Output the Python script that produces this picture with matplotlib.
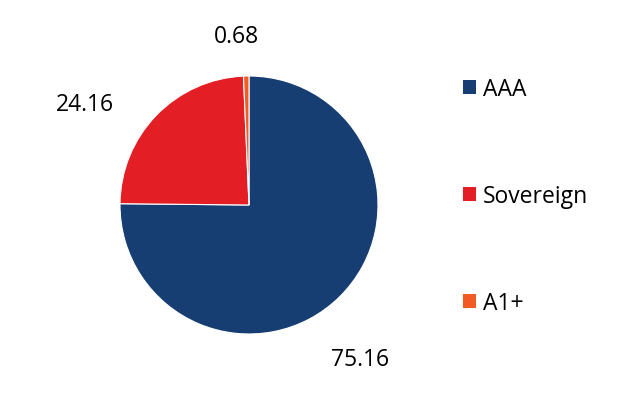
import matplotlib
matplotlib.use("Agg")
import matplotlib.pyplot as plt
from matplotlib.patches import Patch

plt.rcParams['font.family'] = ['Open Sans', 'DejaVu Sans']

categories = ['AAA', 'Sovereign', 'A1+']
values = [75.16, 24.16, 0.68]
colors = ['#173E72', '#E31E24', '#F15A22']

fig = plt.figure(figsize=(6.33, 4.02), dpi=100)
ax = fig.add_axes([120 / 633, 67 / 402, 258 / 633, 258 / 402])

wedges, texts = ax.pie(values, colors=colors, startangle=90, counterclock=False,
                       labels=['%.2f' % v for v in values], radius=1,
                       wedgeprops=dict(edgecolor='white', linewidth=0.8),
                       textprops=dict(fontsize=16.5, color='black'))
ax.set_aspect('equal')
ax.set_xlim(-1, 1)
ax.set_ylim(-1, 1)

# label placement similar to the original
label_pos = [(0.86, -1.19), (-1.27, 0.78), (-0.10, 1.31)]
for t, (x, y) in zip(texts, label_pos):
    t.set_position((x, y))
    t.set_ha('center')
    t.set_va('center')

handles = [Patch(facecolor=c, edgecolor='none') for c in colors]
fig.legend(handles, categories, loc='center left', bbox_to_anchor=(442 / 633, 205 / 402),
           frameon=False, fontsize=16.5, handlelength=0.58, handleheight=0.58,
           handletextpad=0.3, labelspacing=3.62)

fig.savefig('out.png', dpi=100)
